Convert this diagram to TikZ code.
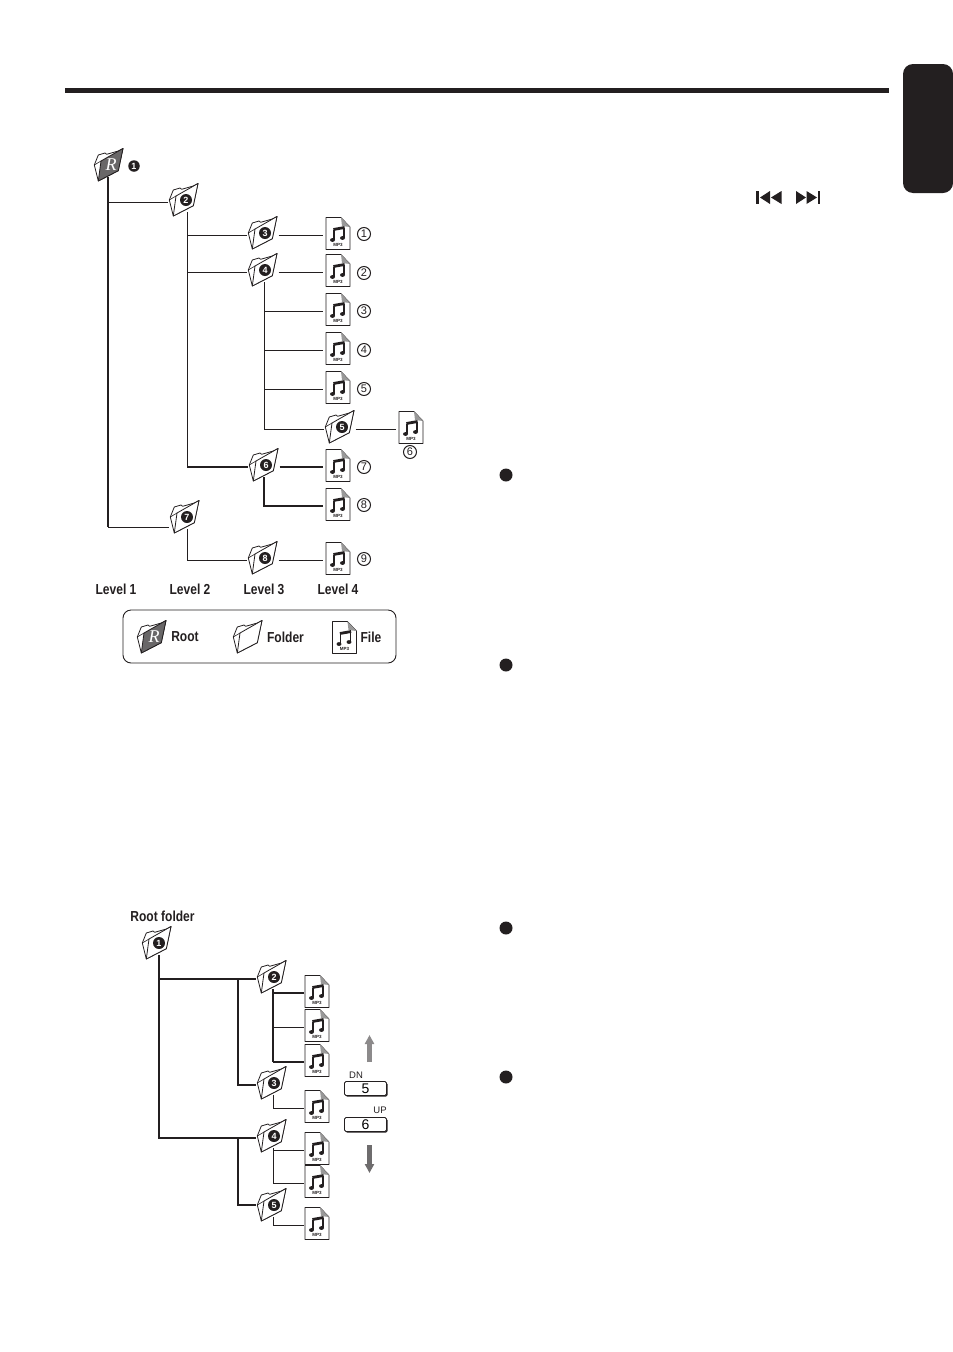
\documentclass[tikz,border=0pt]{standalone}
\usepackage{fontspec}
\setmainfont{Liberation Sans}
\newfontfamily\serifr{Liberation Serif}
\usepackage{xcolor}
\definecolor{inkblk}{RGB}{35,31,32}
\definecolor{rootgray}{RGB}{105,103,104}
\definecolor{upgray}{RGB}{140,138,139}
\definecolor{dngray}{RGB}{110,108,109}
\usetikzlibrary{arrows.meta,positioning,shadows}

\begin{document}
\begin{tikzpicture}[
  x=1pt,y=-1pt,
  folderbox/.style={rectangle,inner sep=0pt,minimum width=31pt,minimum height=20pt},
  filebox/.style={rectangle,inner sep=0pt,minimum width=26pt,minimum height=30pt},
  folderdisk/.style={circle,fill=inkblk,text=white,inner sep=0pt,minimum size=12pt,font=\bfseries\fontsize{9}{9}\selectfont},
  numdisk/.style={circle,fill=inkblk,text=white,inner sep=0pt,minimum size=11.5pt,font=\bfseries\fontsize{9}{9}\selectfont},
  numring/.style={circle,draw=inkblk,line width=1pt,text=inkblk,inner sep=0pt,minimum size=13pt,font=\fontsize{11}{11}\selectfont},
  bullet/.style={circle,fill=inkblk,inner sep=0pt,minimum size=13pt},
  caption/.style={text=inkblk,inner sep=0pt,xscale=0.83,font=\bfseries\fontsize{14.5}{14.5}\selectfont},
  legendbox/.style={rectangle,draw=inkblk,line width=0.9pt,rounded corners=8pt,minimum width=273pt,minimum height=53pt},
  keybox/.style={rectangle,draw=inkblk,fill=white,line width=0.8pt,rounded corners=1.5pt,minimum width=42pt,minimum height=14pt,inner sep=0pt,font=\fontsize{14}{14}\selectfont,general shadow={fill=inkblk,shadow xshift=1pt,shadow yshift=-1pt}},
  keytext/.style={text=inkblk,inner sep=0pt,font=\fontsize{9.5}{9.5}\selectfont},
  link/.style={draw=inkblk,line width=1pt},
  heavy/.style={draw=inkblk,line width=1.5pt},
  trunk/.style={draw=inkblk,line width=2pt},
  tofile/.style={shorten >=2pt},
  pics/plainfolder/.style={code={
    \draw[inkblk,line width=0.8pt,fill=white,line join=round] (-10.7,14)--(-14.7,-2)--(-10.7,-12)--(-4,-14)--(-2.3,-12.7)--(9.3,-16)--(14,-18.5)--(9.3,3.7)--cycle;
    \draw[inkblk,line width=0.8pt,fill=#1,line join=round] (-8,-6)--(14,-18.5)--(9.3,3.7)--(-10.7,14)--cycle;
    \draw[inkblk,line width=0.6pt] (-14.7,-2)--(-8,-6);
    \node[folderbox] (-b) at (0,0) {};
  }},
  pics/numfolder/.style={code={
    \pic {plainfolder=white};
    \node[folderbox] (-b) at (0,0) {};
    \node[folderdisk] (-n) at (2,-2) {#1};
  }},
  pics/rootfolder/.style={code={
    \pic {plainfolder=rootgray};
    \node[folderbox] (-b) at (0,0) {};
    \node[text=white,inner sep=0pt,font=\serifr\itshape\fontsize{18}{18}\selectfont] (-n) at (2,-2) {R};
  }},
  pics/mpfile/.style={code={
    \draw[inkblk,line width=0.7pt,fill=white,line join=round] (-12,-17.5)--(3,-17.5)--(12,-8)--(12,14.5)--(-12,14.5)--cycle;
    \fill[gray!80] (3,-17.5)--(12,-8)--(4,-9)--cycle;
    \draw[inkblk,line width=1.2pt] (-4,5)--(-4,-5.5);
    \draw[inkblk,line width=1.2pt] (6,3)--(6,-7.5);
    \draw[inkblk,line width=2.8pt] (-4.6,-5.5)--(6.6,-7.5);
    \fill[inkblk] (-5.5,5) ellipse (2.5 and 1.9);
    \fill[inkblk] (4.5,3) ellipse (2.5 and 1.9);
    \node[text=inkblk,inner sep=0pt,font=\bfseries\fontsize{4.5}{4.5}\selectfont] (-t) at (0,10) {MP3};
    \node[filebox] (-b) at (0,0) {};
  }}
]
  \useasboundingbox (0,0) rectangle (953,1352);

  % header bar and side tab
  \fill[inkblk] (65,88.3) rectangle (889,93.3);
  \fill[inkblk,rounded corners=10pt] (953,64)--(903,64)--(903,193)--(953,193)--cycle;

  % skip symbols
  \fill[inkblk] (756,191) rectangle (758.7,204);
  \fill[inkblk] (770,191)--(760,197.5)--(770,204)--cycle;
  \fill[inkblk] (781.5,191)--(771,197.5)--(781.5,204)--cycle;
  \fill[inkblk] (796,191)--(806,197.5)--(796,204)--cycle;
  \fill[inkblk] (806.5,191)--(817,197.5)--(806.5,204)--cycle;
  \fill[inkblk] (817.7,191) rectangle (820.4,204);

  % bullets
  \node[bullet] (bu1) at (506,475) {};
  \node[bullet] (bu2) at (506,665) {};
  \node[bullet] (bu3) at (506,928) {};
  \node[bullet] (bu4) at (506,1077) {};

  % upper tree
  \pic (r) at (109,167) {rootfolder};
  \node[numdisk] (rn) at (134,166) {1};
  \pic (f2) at (184,202) {numfolder=2};
  \pic (f3) at (263,235) {numfolder=3};
  \pic (f4) at (263,272) {numfolder=4};
  \pic (f5) at (340,429) {numfolder=5};
  \pic (f6) at (264,467) {numfolder=6};
  \pic (f7) at (185,519) {numfolder=7};
  \pic (f8) at (263,560) {numfolder=8};

  \pic (a1) at (338,235) {mpfile};
  \pic (a2) at (338,272) {mpfile};
  \pic (a3) at (338,311) {mpfile};
  \pic (a4) at (338,350) {mpfile};
  \pic (a5) at (338,389) {mpfile};
  \pic (a6) at (411,429) {mpfile};
  \pic (a7) at (338,467) {mpfile};
  \pic (a8) at (338,506) {mpfile};
  \pic (a9) at (338,560) {mpfile};

  \node[numring] (n1) at (364,234) {1};
  \node[numring] (n2) at (364,273) {2};
  \node[numring] (n3) at (364,311) {3};
  \node[numring] (n4) at (364,350) {4};
  \node[numring] (n5) at (364,389) {5};
  \node[numring] (n6) at (410,452) {6};
  \node[numring] (n7) at (364,467) {7};
  \node[numring] (n8) at (364,505) {8};
  \node[numring] (n9) at (364,559) {9};

  \coordinate (rs) at ([xshift=-1pt]r-b.south);
  \coordinate (f2s) at ([xshift=3pt]f2-b.south);
  \coordinate (f4s) at ([xshift=1pt]f4-b.south);
  \coordinate (f7w) at ([yshift=-8pt]f7-b.west);
  \draw[trunk] (rs) -- (rs |- f7w);
  \draw[link] (rs) |- (f2-b.west);
  \draw[link] (rs |- f7w) -- (f7w);
  \draw[link] (f2s) |- (f3-b.west);
  \draw[link] (f2s) |- (f4-b.west);
  \draw[link] (f2s) |- (f6-b.west);
  \draw[heavy] (f2s |- f6-b.west) -- (f6-b.west);
  \draw[link,tofile] (f3-b.east) -- (a1-b.west);
  \draw[link,tofile] (f4-b.east) -- (a2-b.west);
  \draw[link,tofile] (f4s) |- (a3-b.west);
  \draw[link,tofile] (f4s) |- (a4-b.west);
  \draw[link,tofile] (f4s) |- (a5-b.west);
  \draw[link] (f4s) |- (f5-b.west);
  \draw[link,tofile] (f5-b.east) -- (a6-b.west);
  \draw[heavy,tofile] (f6-b.east) -- (a7-b.west);
  \draw[link,line width=1.3pt,tofile] (f6-b.south) |- (a8-b.west);
  \draw[link] ([xshift=2pt]f7-b.south) |- (f8-b.west);
  \draw[link,tofile] (f8-b.east) -- (a9-b.west);

  \node[caption] (lv1) at (116,589) {Level 1};
  \node[caption] (lv2) at (190,589) {Level 2};
  \node[caption] (lv3) at (264,589) {Level 3};
  \node[caption] (lv4) at (338,589) {Level 4};

  % legend
  \node[legendbox] (legend) at (259.5,636.5) {};
  \pic (lr) at (152,639) {rootfolder};
  \pic (lf) at (248,639) {plainfolder=white};
  \pic (lm) at (344.5,639) {mpfile};
  \node[caption] (lrt) at (185,637) {Root};
  \node[caption] (lft) at (285.5,637) {Folder};
  \node[caption] (lmt) at (371,637) {File};

  % lower tree
  \node[caption] (rf) at (162.5,916) {Root folder};
  \pic (g1) at (157,945) {numfolder=1};
  \pic (g2) at (272,979) {numfolder=2};
  \pic (g3) at (272,1085) {numfolder=3};
  \pic (g4) at (272,1138) {numfolder=4};
  \pic (g5) at (272,1207) {numfolder=5};

  \pic (b1) at (317,993) {mpfile};
  \pic (b2) at (317,1027) {mpfile};
  \pic (b3) at (317,1062) {mpfile};
  \pic (b4) at (317,1108) {mpfile};
  \pic (b5) at (317,1150) {mpfile};
  \pic (b6) at (317,1183) {mpfile};
  \pic (b7) at (317,1225) {mpfile};

  \coordinate (jt) at (238,979);
  \coordinate (jb) at (238,1138);
  \coordinate (g2s) at ([xshift=1pt]g2-b.south);
  \coordinate (g4s) at ([xshift=1pt]g4-b.south);
  \draw[trunk] ([xshift=2pt]g1-b.south) |- (g4-b.west);
  \draw[link,line width=1.2pt] ([xshift=2pt]g1-b.south) |- (g2-b.west);
  \draw[heavy] (jt) |- (g3-b.west);
  \draw[trunk] (jb) |- ([yshift=2pt]g5-b.west);
  \draw[link,line width=1.3pt] (g2s) |- (b1-b.west);
  \draw[link] (g2s) |- (b2-b.west);
  \draw[heavy] (g2s |- b3-b.west) -- (b3-b.west);
  \draw[link,line width=1.3pt] (g2s) -- (g2s |- b3-b.west);
  \draw[link] ([xshift=1pt]g3-b.south) |- (b4-b.west);
  \draw[link] (g4s) |- (b5-b.west);
  \draw[link] (g4s) |- (b6-b.west);
  \draw[link] ([xshift=1pt]g5-b.south) |- (b7-b.west);

  % buttons
  \coordinate (upt) at (369.5,1062);
  \coordinate (uph) at (369.5,1035);
  \coordinate (dnt) at (369.5,1145);
  \coordinate (dnh) at (369.5,1173);
  \draw[upgray,line width=5pt,-{Triangle[width=9pt,length=9pt]}] (upt) -- (uph);
  \draw[dngray,line width=5pt,-{Triangle[width=9pt,length=9pt]}] (dnt) -- (dnh);
  \node[keytext] (dn) at (356,1075) {DN};
  \node[keybox] (k5) at (365.5,1088.5) {5};
  \node[keytext] (up) at (380,1110.5) {UP};
  \node[keybox] (k6) at (365.5,1124.5) {6};
\end{tikzpicture}
\end{document}
